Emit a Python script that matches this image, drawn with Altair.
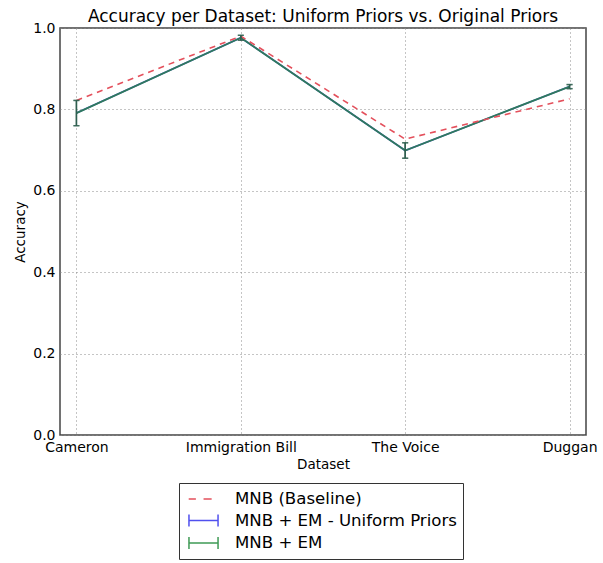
import altair as alt
import pandas as pd

datasets = ["Cameron", "Immigration Bill", "The Voice", "Duggan"]
series_names = ["MNB (Baseline)", "MNB + EM - Uniform Priors", "MNB + EM"]

baseline = [0.822, 0.980, 0.727, 0.826]
em_uniform = [0.791, 0.976, 0.699, 0.856]
em_uniform_err = [0.031, 0.006, 0.019, 0.005]
em = [0.791, 0.976, 0.699, 0.856]
em_err = [0.031, 0.006, 0.019, 0.005]

rows = []
for name, vals, errs in [
    (series_names[0], baseline, [0, 0, 0, 0]),
    (series_names[1], em_uniform, em_uniform_err),
    (series_names[2], em, em_err),
]:
    for d, v, e in zip(datasets, vals, errs):
        rows.append({"series": name, "dataset": d, "acc": v, "lo": v - e, "hi": v + e})
df = pd.DataFrame(rows)

FONT = "DejaVu Sans"
RED = "#e4505c"
BLUE = "#5050ee"
GREEN_LEG = "#3f9a55"
TEAL = "#2f7a5c"
GRID = "#8a8a8a"

x_enc = alt.X(
    "dataset:N",
    sort=datasets,
    scale=alt.Scale(type="point", padding=0.1),
    axis=alt.Axis(
        title="Dataset", labelAngle=0, grid=True, domain=False, ticks=False,
        labelFontSize=14, titleFontSize=13.5, labelPadding=5, titlePadding=3,
        titleFontWeight="normal", labelColor="black", titleColor="black",
        gridColor=GRID, gridDash=[1, 3], gridWidth=1,
    ),
)
y_scale = alt.Scale(domain=[0, 1], nice=False)
y_axis = alt.Axis(
    title="Accuracy", values=[0, 0.2, 0.4, 0.6, 0.8, 1.0], format=".1f",
    grid=True, domain=False, ticks=False, labelFontSize=14, titleFontSize=13.5,
    labelPadding=5, titlePadding=5, titleFontWeight="normal",
    labelColor="black", titleColor="black",
    gridColor=GRID, gridDash=[1, 3], gridWidth=1,
)

base = alt.Chart(df)

blue_line = base.transform_filter(alt.datum.series == series_names[1]).mark_line(
    color=BLUE, strokeWidth=1.6
).encode(x=x_enc, y=alt.Y("acc:Q", scale=y_scale, axis=y_axis))

green_line = base.transform_filter(alt.datum.series == series_names[2]).mark_line(
    color=TEAL, strokeWidth=1.8
).encode(x=x_enc, y=alt.Y("acc:Q", scale=y_scale, axis=y_axis))

red_line = base.transform_filter(alt.datum.series == series_names[0]).mark_line(
    color=RED, strokeWidth=1.6, strokeDash=[6, 5]
).encode(x=x_enc, y=alt.Y("acc:Q", scale=y_scale, axis=y_axis))

err_data = base.transform_filter(alt.datum.series != series_names[0])
err_rule = err_data.mark_rule(color="#2f5f50", strokeWidth=1.4).encode(
    x=x_enc, y=alt.Y("lo:Q", scale=y_scale, axis=y_axis), y2="hi:Q"
)
cap_lo = err_data.mark_tick(color="#2f5f50", orient="horizontal", size=6, thickness=1.4).encode(
    x=x_enc, y=alt.Y("lo:Q", scale=y_scale, axis=y_axis)
)
cap_hi = err_data.mark_tick(color="#2f5f50", orient="horizontal", size=6, thickness=1.4).encode(
    x=x_enc, y=alt.Y("hi:Q", scale=y_scale, axis=y_axis)
)

dash_path = "M-0.7,0L0.1,0M0.95,0L1.85,0"
h_path = "M-0.67,-0.67L-0.67,0.67M-0.67,0L2.56,0M2.56,-0.67L2.56,0.67"

legend_layer = base.mark_point(filled=False, opacity=0, size=10).encode(
    x=x_enc,
    y=alt.Y("acc:Q", scale=y_scale, axis=y_axis),
    color=alt.Color(
        "series:N",
        scale=alt.Scale(domain=series_names, range=[RED, BLUE, GREEN_LEG]),
        legend=alt.Legend(
            title=None, orient="none", legendX=119, legendY=455,
            direction="vertical", strokeColor="#333", fillColor="white",
            padding=6, labelFont=FONT, labelFontSize=16.6, labelColor="black",
            symbolStrokeWidth=1.5, symbolSize=324, symbolOpacity=1,
            labelOffset=30, rowPadding=2.5, labelLimit=400,
        ),
    ),
    shape=alt.Shape(
        "series:N",
        scale=alt.Scale(domain=series_names, range=[dash_path, h_path, h_path]),
        legend=None,
    ),
)

chart = alt.layer(
    blue_line, green_line, red_line, err_rule, cap_lo, cap_hi, legend_layer
).properties(
    width=526,
    height=407,
    title=alt.TitleParams(
        "Accuracy per Dataset: Uniform Priors vs. Original Priors",
        font=FONT, fontSize=17, fontWeight="normal", color="black",
        anchor="middle", offset=-5, frame="group",
    ),
    autosize=alt.AutoSizeParams(type="none"),
    padding={"left": 60, "top": 28, "right": 17, "bottom": 128},
).configure(
    font=FONT,
).configure_view(
    stroke="#444", strokeWidth=1.5
).configure_axis(
    labelFont=FONT, titleFont=FONT
)

chart.save("out.html", embed_options={"renderer": "svg", "actions": False})
